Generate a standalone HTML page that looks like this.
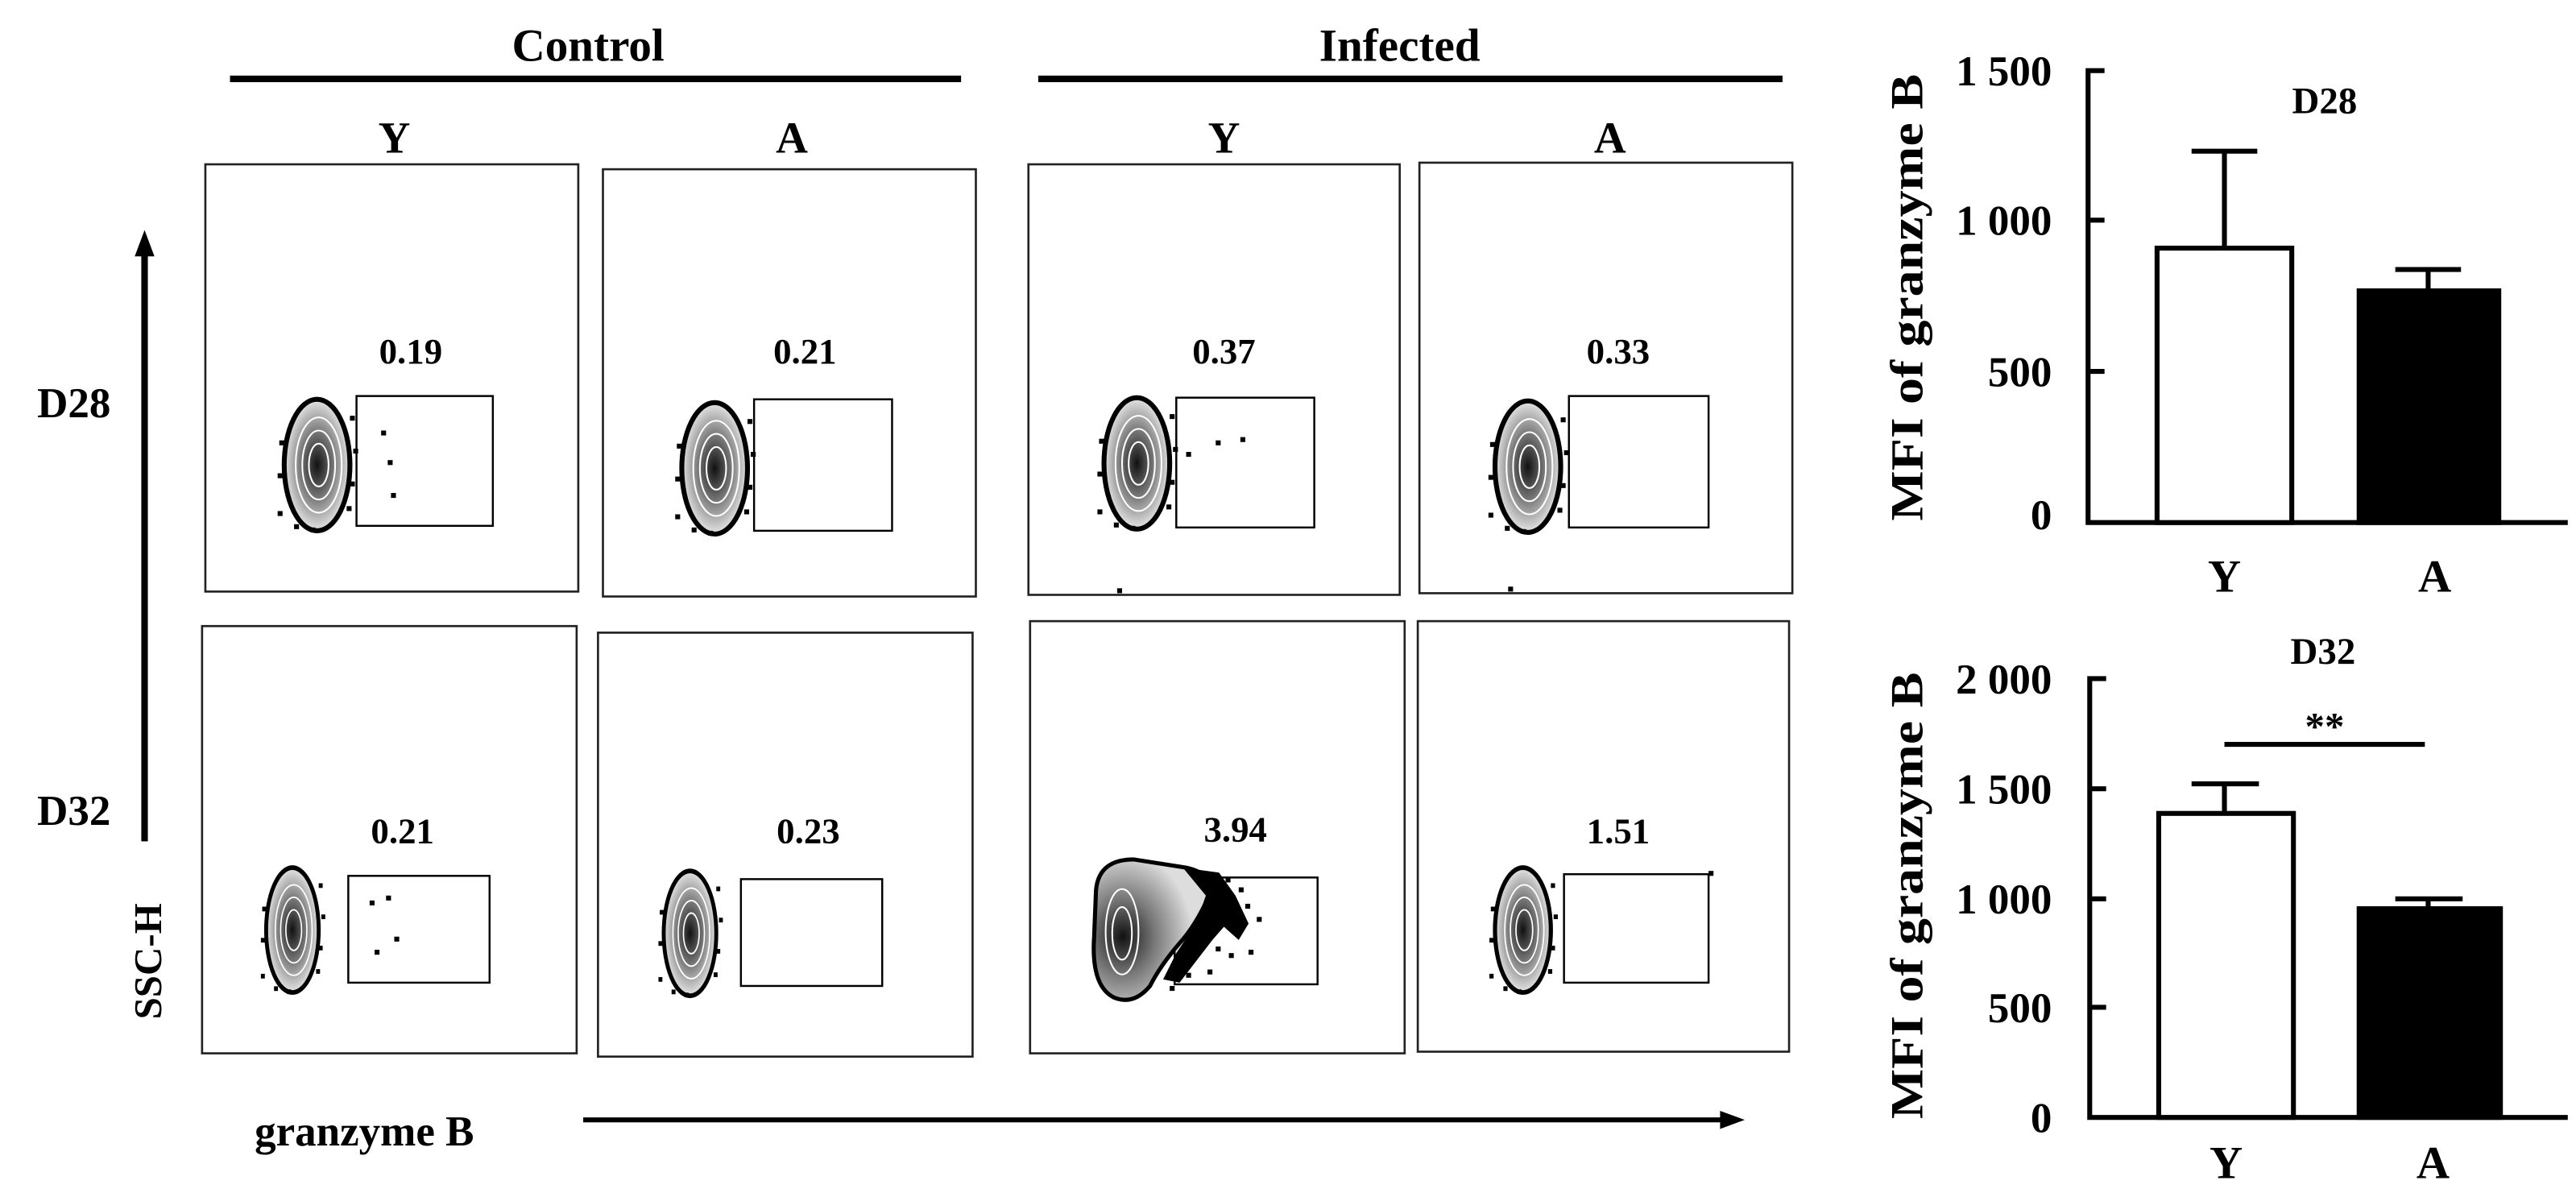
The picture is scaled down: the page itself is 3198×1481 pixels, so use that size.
<!DOCTYPE html>
<html><head><meta charset="utf-8"><style>
html,body{margin:0;padding:0;background:#fff}
svg{display:block}
text{font-family:"Liberation Serif",serif;font-weight:bold;fill:#000}
</style></head><body>
<svg width="3198" height="1481" viewBox="0 0 1568 726" preserveAspectRatio="none" xmlns="http://www.w3.org/2000/svg">
<defs>
<radialGradient id="g" cx="50%" cy="50%" r="50%">
<stop offset="0" stop-color="#111"/><stop offset="0.5" stop-color="#777"/><stop offset="1" stop-color="#e5e5e5"/>
</radialGradient>
<radialGradient id="g2" cx="25%" cy="55%" r="60%">
<stop offset="0" stop-color="#111"/><stop offset="0.45" stop-color="#777"/><stop offset="1" stop-color="#ddd"/>
</radialGradient>
<g id="blob">
<ellipse cx="0" cy="0" rx="20" ry="40" fill="url(#g)" stroke="#000" stroke-width="3"/>
<ellipse cx="1" cy="0" rx="14" ry="29" fill="none" stroke="#fff" stroke-width="1"/>
<ellipse cx="1" cy="0" rx="10" ry="21" fill="none" stroke="#fff" stroke-width="1"/>
<ellipse cx="1" cy="0" rx="6" ry="13" fill="none" stroke="#fff" stroke-width="1"/>
<g fill="#000"><rect x="-24" y="28" width="3" height="3"/><rect x="-14" y="36" width="3" height="3"/><rect x="-4" y="38" width="3" height="3"/><rect x="20" y="-30" width="3" height="3"/><rect x="22" y="-10" width="3" height="3"/><rect x="20" y="10" width="3" height="3"/><rect x="18" y="25" width="3" height="3"/><rect x="-23" y="-15" width="3" height="3"/><rect x="-24" y="5" width="3" height="3"/></g>
</g>
</defs>
<rect width="1568" height="726" fill="#fff"/>
<text x="358" y="37" font-size="28" text-anchor="middle">Control</text>
<rect x="140" y="46" width="445" height="4"/>
<text x="852" y="37" font-size="28" text-anchor="middle">Infected</text>
<rect x="632" y="46" width="453" height="4"/>
<g font-size="27" text-anchor="middle">
<text x="240" y="93">Y</text><text x="482" y="93">A</text><text x="745" y="93">Y</text><text x="980" y="93">A</text>
</g>
<g fill="none" stroke="#222" stroke-width="1.3">
<rect x="125" y="100" width="227" height="260"/><rect x="367" y="103" width="227" height="260"/>
<rect x="626" y="100" width="226" height="262"/><rect x="864" y="99" width="227" height="262"/>
<rect x="123" y="381" width="228" height="260"/><rect x="364" y="385" width="228" height="258"/>
<rect x="627" y="378" width="228" height="263"/><rect x="863" y="378" width="226" height="262"/>
</g>
<g fill="none" stroke="#000" stroke-width="1.2">
<rect x="217" y="241" width="83" height="79"/><rect x="459" y="243" width="84" height="80"/>
<rect x="716" y="242" width="84" height="79"/><rect x="955" y="241" width="85" height="80"/>
<rect x="212" y="533" width="86" height="65"/><rect x="451" y="535" width="86" height="65"/>
<rect x="715" y="534" width="87" height="65"/><rect x="952" y="532" width="88" height="66"/>
</g>
<use href="#blob" x="193" y="283"/><use href="#blob" x="435" y="285"/>
<use href="#blob" x="692" y="282"/><use href="#blob" x="930" y="284"/>
<use href="#blob" transform="translate(178,566) scale(0.8,0.95)"/><use href="#blob" transform="translate(420,568) scale(0.8,0.95)"/>
<use href="#blob" transform="translate(927,566) scale(0.85,0.95)"/>
<g>
<path d="M667,545 Q667,523 690,523 L722,528 Q740,532 736,545 Q728,563 718,574 Q706,588 700,600 Q690,612 678,607 Q664,600 666,570 Z" fill="url(#g2)" stroke="#000" stroke-width="2.5"/>
<ellipse cx="683" cy="567" rx="10" ry="26" fill="none" stroke="#fff"/><ellipse cx="683" cy="568" rx="6" ry="16" fill="none" stroke="#fff"/>
<polygon points="720,528 742,531 752,545 760,562 754,572 745,564 738,572 728,585 718,598 708,596 716,580 728,562 734,545" fill="#000"/>
<g fill="#000"><rect x="746" y="534" width="3" height="3"/><rect x="754" y="540" width="3" height="3"/><rect x="758" y="550" width="3" height="3"/><rect x="740" y="576" width="3" height="3"/><rect x="748" y="580" width="3" height="3"/><rect x="760" y="578" width="3" height="3"/><rect x="735" y="590" width="3" height="3"/><rect x="722" y="592" width="3" height="3"/><rect x="712" y="600" width="3" height="3"/><rect x="765" y="558" width="3" height="3"/></g>
</g>
<g fill="#000">
<rect x="232" y="262" width="3" height="3"/><rect x="236" y="280" width="3" height="3"/><rect x="238" y="300" width="3" height="3"/>
<rect x="722" y="275" width="3" height="3"/><rect x="740" y="268" width="3" height="3"/><rect x="755" y="266" width="3" height="3"/>
<rect x="225" y="548" width="3" height="3"/><rect x="235" y="545" width="3" height="3"/><rect x="240" y="570" width="3" height="3"/><rect x="228" y="578" width="3" height="3"/>
<rect x="1040" y="530" width="3" height="3"/><rect x="680" y="358" width="3" height="3"/><rect x="918" y="357" width="3" height="3"/>
</g>
<g font-size="22" text-anchor="middle">
<text x="250" y="221">0.19</text><text x="490" y="221">0.21</text><text x="745" y="221">0.37</text><text x="985" y="221">0.33</text>
<text x="245" y="513">0.21</text><text x="492" y="513">0.23</text><text x="752" y="512">3.94</text><text x="985" y="513">1.51</text>
</g>
<rect x="86" y="152" width="4" height="360"/>
<polygon points="88,140 82,156 94,156"/>
<text x="45" y="254" font-size="26" text-anchor="middle">D28</text>
<text x="45" y="502" font-size="26" text-anchor="middle">D32</text>
<text transform="translate(98,585) rotate(-90)" font-size="24" text-anchor="middle">SSC-H</text>
<text x="155" y="697" font-size="26">granzyme B</text>
<rect x="355" y="680" width="695" height="3"/>
<polygon points="1062,681.5 1047,676 1047,687"/>
<!-- chart 1 -->
<g stroke="#000" stroke-width="3" fill="none">
<polyline points="1281,43 1271,43 1271,318 1563,318"/>
<line x1="1271" y1="134" x2="1281" y2="134"/><line x1="1271" y1="226" x2="1281" y2="226"/>
<rect x="1313" y="151" width="82" height="167" fill="#fff"/>
<line x1="1354" y1="151" x2="1354" y2="92"/><line x1="1334" y1="92" x2="1374" y2="92"/>
<rect x="1436" y="177" width="85" height="141" fill="#000"/>
<line x1="1478" y1="177" x2="1478" y2="164"/><line x1="1458" y1="164" x2="1498" y2="164"/>
</g>
<g font-size="26" text-anchor="end">
<text x="1249" y="52">1 500</text><text x="1249" y="143">1 000</text><text x="1249" y="235">500</text><text x="1249" y="322">0</text>
</g>
<text x="1415" y="69" font-size="23" text-anchor="middle">D28</text>
<text x="1354" y="360" font-size="28" text-anchor="middle">Y</text><text x="1482" y="360" font-size="28" text-anchor="middle">A</text>
<text transform="translate(1170,181) rotate(-90)" font-size="28" text-anchor="middle" textLength="272" lengthAdjust="spacingAndGlyphs">MFI of granzyme B</text>
<!-- chart 2 -->
<g stroke="#000" stroke-width="3" fill="none">
<polyline points="1282,413 1272,413 1272,680 1563,680"/>
<line x1="1272" y1="480" x2="1282" y2="480"/><line x1="1272" y1="547" x2="1282" y2="547"/><line x1="1272" y1="613" x2="1282" y2="613"/>
<rect x="1314" y="495" width="82" height="185" fill="#fff"/>
<line x1="1354" y1="495" x2="1354" y2="477"/><line x1="1334" y1="477" x2="1375" y2="477"/>
<rect x="1436" y="553" width="86" height="127" fill="#000"/>
<line x1="1478" y1="553" x2="1478" y2="547"/><line x1="1458" y1="547" x2="1499" y2="547"/>
<line x1="1354" y1="453" x2="1476" y2="453"/>
</g>
<text x="1415" y="450" font-size="24" text-anchor="middle">**</text>
<g font-size="26" text-anchor="end">
<text x="1249" y="422">2 000</text><text x="1249" y="489">1 500</text><text x="1249" y="556">1 000</text><text x="1249" y="622">500</text><text x="1249" y="689">0</text>
</g>
<text x="1414" y="404" font-size="23" text-anchor="middle">D32</text>
<text x="1355" y="717" font-size="28" text-anchor="middle">Y</text><text x="1481" y="717" font-size="28" text-anchor="middle">A</text>
<text transform="translate(1170,545) rotate(-90)" font-size="28" text-anchor="middle" textLength="272" lengthAdjust="spacingAndGlyphs">MFI of granzyme B</text>
</svg>
</body></html>
